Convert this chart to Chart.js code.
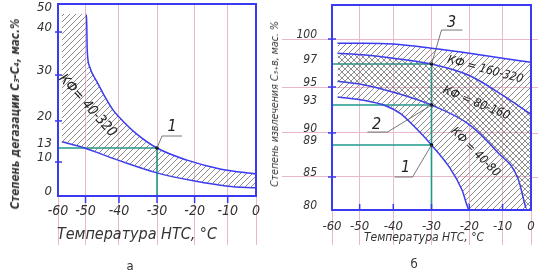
<!DOCTYPE html>
<html>
<head>
<meta charset="utf-8">
<script src="https://cdn.jsdelivr.net/npm/chart.js@4.4.1/dist/chart.umd.min.js"></script>
<style>
  body { margin: 0; width: 541px; height: 277px; background: #fff; position: relative; overflow: hidden;
         font-family: 'DejaVu Sans Condensed', 'DejaVu Sans', sans-serif; color: #333; }
  .box { position: absolute; top: 0; height: 277px; }
  .t { position: absolute; white-space: nowrap; font-style: italic; transform: translate(-50%, -50%); }
  .v { transform: translate(-50%, -50%) rotate(-90deg); }
</style>
</head>
<body>
<div class="box" style="left:0;width:270px"><canvas id="chartA" width="270" height="277"></canvas></div>
<div class="box" style="left:270px;width:271px"><canvas id="chartB" width="271" height="277"></canvas></div>
<div class="t v" style="left:15px;top:114px;font-size:11.5px;font-weight:bold">Степень дегазации С₃-С₄, мас.%</div>
<div class="t" style="left:137px;top:233px;font-size:16px">Температура НТС, °С</div>
<div class="t v" style="left:274px;top:104px;font-size:10.5px">Степень извлечения С₃₊в, мас. %</div>
<div class="t" style="left:424px;top:237px;font-size:12px">Температура НТС, °С</div>
<div class="t" style="left:130px;top:265px;font-style:normal;font-size:13px">а</div>
<div class="t" style="left:414px;top:263px;font-style:normal;font-size:13px">б</div>
<script>
// ось температуры (общая для а и б)
const tempTicks = [-60, -50, -40, -30, -20, -10, 0];

// а) степень дегазации, КФ = 40-320
const degasTicks = [0, 10, 13, 20, 30, 40, 50];
const degasUpperT = [-58.6, -49.7, -49.5, -48.8, -46.4, -44, -41.8, -39, -35.3, -30, -22, -12, 0];
const degasUpperV = [46.4, 46.4, 36, 32, 28.3, 25, 22.4, 20, 16.6, 13, 10.4, 7.9, 6.5];
const degasLowerT = [-58.6, -50.4, -40.3, -30, -20, -10, 0];
const degasLowerV = [14.6, 13, 10.4, 6.8, 4.4, 2.9, 2.4];
const degasMark = [-30, 13];

// б) степень извлечения
const extrTicks = [80, 85, 89, 90, 93, 95, 97, 100];
const extrGrid = [85, 90, 95, 100];
const curve1T = [-58, -49, -40, -30, -20, -10, 0];
const curve1V = [99.5, 99.5, 99.4, 98.9, 98.3, 97.7, 97.2];
const curve2T = [-58, -49, -40, -30, -20, -10, 0];
const curve2V = [98.3, 98.1, 97.7, 97, 96, 94.1, 92];
const curve3T = [-58, -49, -39, -30, -20, -11.5, -4.6, -1.8, 0];
const curve3V = [95.5, 95.2, 94.3, 93, 90.9, 88.1, 84.8, 80.3, 78];
const curve4T = [-58, -48.4, -42.5, -38.2, -34.3, -30, -25.1, -21.9, -20, 0];
const curve4V = [93.9, 93.5, 92.95, 92.1, 90.6, 89, 86.1, 83, 80, 78];
const extrMarkT = -30;
const extrMarkV = [97, 93, 89];

// подписи
const bandA = 'КФ= 40-320';
const bandsB = ['КФ = 160-320', 'КФ = 80-160', 'КФ = 40-80'];

// положения делений на чертеже (доля длины оси) — оси нарисованы от руки
const tempFracs = [0, 0.139, 0.308, 0.5, 0.69, 0.857, 1];
const degasFracs = [0, 0.177, 0.25, 0.391, 0.63, 0.854, 1];
const extrStopV = [80, 85, 89, 90, 93, 95, 97, 100, 104];
const extrStopF = [0, 0.161, 0.317, 0.376, 0.512, 0.6, 0.712, 0.834, 1];

const BLUE = '#3a3af2';
const GREEN = '#1e9a8c';
const PINK = '#e9b8cd';
const FONT = "'DejaVu Sans Condensed', 'DejaVu Sans', sans-serif";

class StopScale extends Chart.LinearScale {
  frac(v) {
    const vs = this.options.stopValues, fs = this.options.stopFracs;
    let i = 1;
    while (i < vs.length - 1 && v > vs[i]) i++;
    return fs[i - 1] + (v - vs[i - 1]) / (vs[i] - vs[i - 1]) * (fs[i] - fs[i - 1]);
  }
  getPixelForValue(v) {
    if (v === null || isNaN(v)) return NaN;
    return this.getPixelForDecimal(this.frac(v));
  }
  getValueForPixel(p) {
    const vs = this.options.stopValues, fs = this.options.stopFracs;
    const d = this.getDecimalForPixel(p);
    let i = 1;
    while (i < fs.length - 1 && d > fs[i]) i++;
    return vs[i - 1] + (d - fs[i - 1]) / (fs[i] - fs[i - 1]) * (vs[i] - vs[i - 1]);
  }
}
StopScale.id = 'stops';
Chart.register(StopScale);

function hatch(kind) {
  const c = document.createElement('canvas');
  c.width = c.height = 6;
  const g = c.getContext('2d');
  g.strokeStyle = '#707070';
  g.lineWidth = 0.8;
  g.beginPath();
  if (kind.includes('/')) {
    g.moveTo(0, 6); g.lineTo(6, 0);
    g.moveTo(-1, 1); g.lineTo(1, -1);
    g.moveTo(5, 7); g.lineTo(7, 5);
  }
  if (kind.includes('\\')) {
    g.moveTo(0, 0); g.lineTo(6, 6);
    g.moveTo(5, -1); g.lineTo(7, 1);
    g.moveTo(-1, 5); g.lineTo(1, 7);
  }
  g.stroke();
  return g.createPattern(c, 'repeat');
}

const pts = (ts, vs) => ts.map((t, i) => ({ x: t, y: vs[i] }));

function curve(data, extra) {
  return Object.assign({
    data: data,
    borderColor: BLUE,
    borderWidth: 1.5,
    pointRadius: 0,
    cubicInterpolationMode: 'monotone',
    fill: false
  }, extra);
}

function greenLine(data) {
  return { data: data, borderColor: GREEN, borderWidth: 1.6, pointRadius: 0, tension: 0, fill: false };
}

function dots(data) {
  return { data: data, showLine: false, pointRadius: 1.8, pointBackgroundColor: '#111',
           pointBorderWidth: 0, order: -1 };
}

const decor = {
  id: 'decor',
  afterDatasetsDraw(chart, args, o) {
    const { ctx, chartArea: a, scales: { x, y } } = chart;
    ctx.save();
    ctx.strokeStyle = PINK;
    ctx.lineWidth = 1;
    (o.extendRight || []).forEach(v => {
      const py = Math.round(y.getPixelForValue(v)) + 0.5;
      ctx.beginPath(); ctx.moveTo(a.right, py); ctx.lineTo(a.right + 7, py); ctx.stroke();
    });

    ctx.strokeStyle = BLUE;
    ctx.lineWidth = 2;
    ctx.strokeRect(a.left, a.top, a.right - a.left, a.bottom - a.top);
    ctx.lineWidth = 1.5;
    o.xMarks.forEach(v => {
      const px = x.getPixelForValue(v);
      ctx.beginPath(); ctx.moveTo(px, a.bottom + o.xSpan[0]); ctx.lineTo(px, a.bottom + o.xSpan[1]); ctx.stroke();
    });
    o.yMarks.forEach(v => {
      const py = y.getPixelForValue(v);
      ctx.beginPath(); ctx.moveTo(a.left + o.ySpan[0], py); ctx.lineTo(a.left + o.ySpan[1], py); ctx.stroke();
    });

    ctx.strokeStyle = '#555';
    ctx.fillStyle = '#222';
    ctx.lineWidth = 0.8;
    ctx.textAlign = 'center';
    ctx.textBaseline = 'middle';
    ctx.font = 'italic 16px ' + FONT;
    o.callouts.forEach(c => {
      const px = x.getPixelForValue(c.x), py = y.getPixelForValue(c.y);
      ctx.beginPath();
      ctx.moveTo(px, py);
      c.path.forEach(([dx, dy]) => ctx.lineTo(px + dx, py + dy));
      ctx.stroke();
      ctx.fillText(c.text, px + c.label[0], py + c.label[1]);
    });

    o.bands.forEach(b => {
      ctx.save();
      ctx.font = 'italic ' + b.size + 'px ' + FONT;
      ctx.translate(x.getPixelForValue(b.x), y.getPixelForValue(b.y));
      ctx.rotate(b.angle * Math.PI / 180);
      ctx.fillText(b.text, 0, 0);
      ctx.restore();
    });
    ctx.restore();
  }
};

function xAxis(fontSize, tickLen, pad, height) {
  return {
    type: 'stops', min: -60, max: 0,
    stopValues: tempTicks, stopFracs: tempFracs,
    afterBuildTicks: s => { s.ticks = tempTicks.map(v => ({ value: v })); },
    afterFit: s => { s.height = height; s.paddingLeft = 0; s.paddingRight = 0; },
    border: { display: false },
    grid: { color: PINK, tickColor: PINK, lineWidth: 1, tickLength: tickLen },
    ticks: {
      autoSkip: false, maxRotation: 0, minRotation: 0, padding: pad, color: '#333',
      font: { family: FONT, size: fontSize, style: 'italic' },
      callback: v => String(v)
    }
  };
}

function baseOptions(padding, scales, decorOpts) {
  return {
    responsive: false,
    animation: false,
    events: [],
    layout: { padding: padding },
    scales: scales,
    plugins: { legend: { display: false }, tooltip: { enabled: false }, decor: decorOpts }
  };
}

// ---- а ----
new Chart(document.getElementById('chartA'), {
  type: 'line',
  data: {
    datasets: [
      curve(pts(degasUpperT, degasUpperV), {
        fill: '+1', backgroundColor: hatch('/'),
        segment: { borderColor: c => c.p0DataIndex === 0 ? 'transparent' : BLUE }
      }),
      curve(pts(degasLowerT, degasLowerV)),
      greenLine([{ x: -60, y: degasMark[1] }, { x: degasMark[0], y: degasMark[1] }, { x: degasMark[0], y: 0 }]),
      dots([{ x: degasMark[0], y: degasMark[1] }])
    ]
  },
  options: baseOptions({ left: 0, right: 14, top: 4, bottom: 0 }, {
    x: xAxis(14, 49, -42.4, 81),
    y: {
      type: 'stops', min: 0, max: 50,
      stopValues: degasTicks, stopFracs: degasFracs,
      afterBuildTicks: s => { s.ticks = degasTicks.map(v => ({ value: v })); },
      afterFit: s => { s.width = 58; s.paddingTop = 0; s.paddingBottom = 0; },
      border: { display: false },
      grid: { display: false, drawTicks: false },
      ticks: {
        autoSkip: false, padding: 6, labelOffset: -4, color: '#333',
        font: { family: FONT, size: 13, style: 'italic' },
        callback: v => v === 50 ? ['', String(v)] : String(v)
      }
    }
  }, {
    xMarks: [-50, -40, -30, -20, -10], xSpan: [0, 7],
    yMarks: [10, 20, 30, 40], ySpan: [-3, 4],
    callouts: [{ x: degasMark[0], y: degasMark[1], text: '1', path: [[5, -12], [25, -12]], label: [15, -21] }],
    bands: [{ text: bandA, x: -49.4, y: 23.3, angle: 48, size: 14 }]
  }),
  plugins: [decor]
});

// ---- б ----
new Chart(document.getElementById('chartB'), {
  type: 'line',
  data: {
    datasets: [
      curve(pts(curve1T, curve1V), { fill: '+1', backgroundColor: hatch('/') }),
      curve(pts(curve2T, curve2V), { fill: '+1', backgroundColor: hatch('/\\') }),
      curve(pts(curve3T, curve3V), {
        fill: '+1', backgroundColor: hatch('/'),
        segment: { borderColor: c => c.p1DataIndex === curve3T.length - 1 ? 'transparent' : BLUE }
      }),
      curve(pts(curve4T, curve4V), {
        segment: { borderColor: c => c.p1DataIndex === curve4T.length - 1 ? 'transparent' : BLUE }
      }),
      ...extrMarkV.map(v => greenLine([{ x: -60, y: v }, { x: extrMarkT, y: v }])),
      greenLine([{ x: extrMarkT, y: extrMarkV[0] }, { x: extrMarkT, y: 80 }]),
      dots(extrMarkV.map(v => ({ x: extrMarkT, y: v })))
    ]
  },
  options: baseOptions({ left: 0, right: 10, top: 5, bottom: 0 }, {
    x: xAxis(13, 35, -25.8, 67),
    y: {
      type: 'stops', min: 80, max: 104,
      stopValues: extrStopV, stopFracs: extrStopF,
      afterBuildTicks: s => { s.ticks = extrTicks.map(v => ({ value: v })); },
      afterFit: s => { s.width = 62; s.paddingTop = 0; s.paddingBottom = 0; },
      border: { display: false },
      grid: {
        lineWidth: 1, tickLength: 50,
        color: c => extrGrid.includes(c.tick.value) ? PINK : 'transparent',
        tickColor: c => extrGrid.includes(c.tick.value) ? PINK : 'transparent'
      },
      ticks: {
        autoSkip: false, padding: -35, labelOffset: -4, color: '#333',
        font: { family: FONT, size: 12, style: 'italic' },
        callback: v => String(v)
      }
    }
  }, {
    extendRight: extrGrid,
    xMarks: [-50, -40, -30, -20, -10], xSpan: [-6, 1],
    yMarks: [85, 90, 95, 100], ySpan: [-4, 4],
    callouts: [
      { x: extrMarkT, y: extrMarkV[0], text: '3', path: [[10, -34], [31, -34]], label: [20, -41] },
      { x: extrMarkT, y: extrMarkV[1], text: '2', path: [[-44, 27], [-64, 27]], label: [-55, 20] },
      { x: extrMarkT, y: extrMarkV[2], text: '1', path: [[-19, 32], [-37, 32]], label: [-26, 23] }
    ],
    bands: [
      { text: bandsB[0], x: -15.2, y: 96.5, angle: 15, size: 12 },
      { text: bandsB[1], x: -17.9, y: 93.2, angle: 22, size: 12 },
      { text: bandsB[2], x: -18.2, y: 88.1, angle: 45, size: 12 }
    ]
  }),
  plugins: [decor]
});
</script>
</body>
</html>
